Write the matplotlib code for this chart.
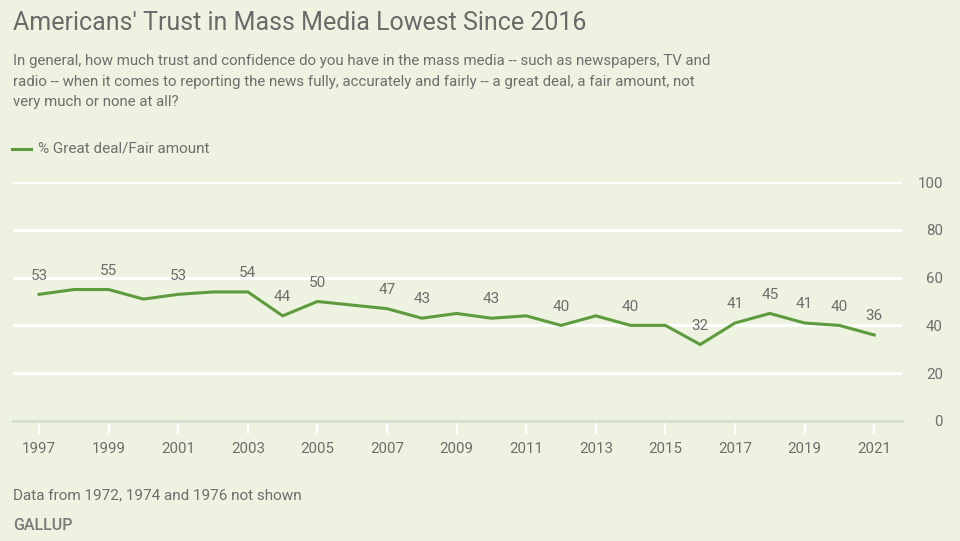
import matplotlib
matplotlib.use("Agg")
import matplotlib.pyplot as plt

years = [1997, 1998, 1999, 2000, 2001, 2002, 2003, 2004, 2005, 2007, 2008, 2009,
         2010, 2011, 2012, 2013, 2014, 2015, 2016, 2017, 2018, 2019, 2020, 2021]
trust = [53, 55, 55, 51, 53, 54, 54, 44, 50, 47, 43, 45,
         43, 44, 40, 44, 40, 40, 32, 41, 45, 41, 40, 36]
labeled_years = [1997, 1999, 2001, 2003, 2004, 2005, 2007, 2008, 2010, 2012,
                 2014, 2016, 2017, 2018, 2019, 2020, 2021]
xtick_years = list(range(1997, 2022, 2))
yticks = [0, 20, 40, 60, 80, 100]

BG = "#EDF3E0"
GREEN = "#5E9B3F"
TXT = "#6E6E6E"

plt.rcParams['font.family'] = ['Roboto', 'DejaVu Sans']

W, H = 960, 541
fig = plt.figure(figsize=(W / 100, H / 100), dpi=100, facecolor=BG)

def fx(px): return px / W
def fy(py): return 1 - py / H

ax = fig.add_axes([fx(13), fy(421), fx(902) - fx(13), fy(182) - fy(421)])
ax.set_facecolor(BG)
ax.set_xlim(1996.25, 2021.8)
ax.set_ylim(0, 100)

for v in yticks[1:]:
    ax.axhline(v, color="white", lw=2.2, zorder=1)

ax.plot(years, trust, color=GREEN, lw=2.2, zorder=3, solid_joinstyle='miter')
for y, v in zip(years, trust):
    if y in labeled_years:
        ax.annotate(str(v), (y, v), xytext=(0, 13.5), textcoords='offset points',
                    ha='center', va='center', fontsize=11, color=TXT)

for s in ['top', 'left', 'right']:
    ax.spines[s].set_visible(False)
ax.spines['bottom'].set_color("#D8DDD2")
ax.spines['bottom'].set_linewidth(2)

ax.set_xticks(xtick_years)
ax.set_xticklabels([str(y) for y in xtick_years], fontsize=10.8, color=TXT)
ax.tick_params(axis='x', length=9, width=1.6, color="white", pad=6)

ax.yaxis.tick_right()
ax.set_yticks(yticks)
ax.set_yticklabels([str(v) for v in yticks], fontsize=10.8, color=TXT, ha='right')
ax.tick_params(axis='y', length=0, pad=29.5)

fig.text(fx(13), fy(23), "Americans' Trust in Mass Media Lowest Since 2016",
         fontsize=18, color="#6A6A6A", va='center', ha='left')
sub = ("In general, how much trust and confidence do you have in the mass media -- such as newspapers, TV and\n"
       "radio -- when it comes to reporting the news fully, accurately and fairly -- a great deal, a fair amount, not\n"
       "very much or none at all?")
fig.text(fx(13), fy(54), sub, fontsize=10.8, color=TXT, va='top', ha='left', linespacing=1.6)

fig.add_artist(plt.Line2D([fx(12), fx(31)], [fy(149), fy(149)], color=GREEN, lw=2.2))
fig.text(fx(38), fy(149), "% Great deal/Fair amount", fontsize=11, color=TXT, va='center', ha='left')

fig.text(fx(13), fy(495), "Data from 1972, 1974 and 1976 not shown", fontsize=11, color=TXT,
         va='center', ha='left')
fig.text(fx(13), fy(525), "GALLUP", fontsize=11.5, color="#7A7A7A", va='center', ha='left',
         fontweight='medium')

fig.savefig("out.png", dpi=100, facecolor=BG)
